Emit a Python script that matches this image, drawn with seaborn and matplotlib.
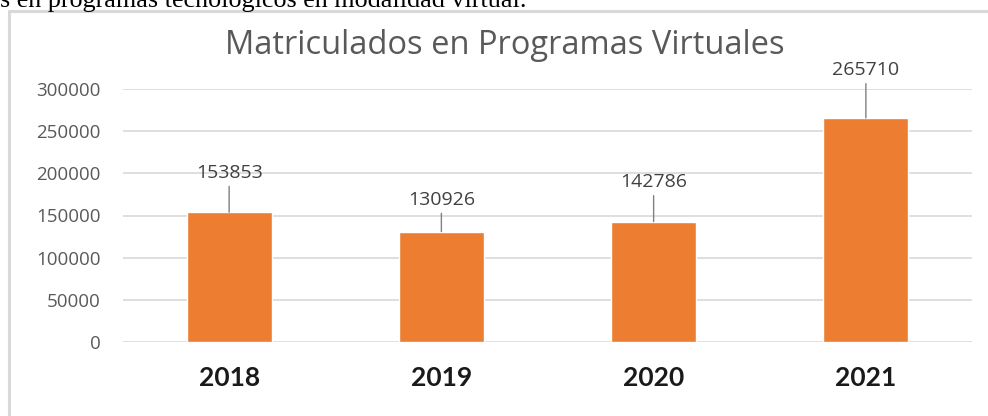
import matplotlib
matplotlib.use("Agg")
import matplotlib.pyplot as plt
import seaborn as sns
import pandas as pd
from matplotlib.lines import Line2D

# Datos del gráfico
anios = ["2018", "2019", "2020", "2021"]
matriculados = [153853, 130926, 142786, 265710]
titulo = "Matriculados en Programas Virtuales"
texto_superior = "s en programas tecnológicos en modalidad virtual."

# separación (en puntos) de cada etiqueta respecto a la barra
elevacion_etiqueta = [28.5, 23, 28.5, 34.5]

df = pd.DataFrame({"Año": anios, "Matriculados": matriculados})

sns.set_theme(style="white")
plt.rcParams["font.family"] = ["Open Sans", "DejaVu Sans"]

W, H = 988, 416
fig = plt.figure(figsize=(W / 100, H / 100), dpi=100)
ax = fig.add_axes([123 / W, 74 / H, (972 - 123) / W, 253 / H])

sns.barplot(data=df, x="Año", y="Matriculados", color="#ED7D31",
            width=0.4, saturation=1, ax=ax, zorder=3)

ax.set_ylim(0, 300000)
ax.set_xlim(-0.5, 3.5)
ax.set_yticks(range(0, 300001, 50000))
ax.yaxis.grid(True, color="#D9D9D9", lw=1.2, zorder=0)
ax.set_axisbelow(True)
for s in ax.spines.values():
    s.set_visible(False)
ax.set_xlabel("")
ax.set_ylabel("")
ax.tick_params(axis="y", length=0, pad=16, labelsize=13.5, labelcolor="#595959")
ax.tick_params(axis="x", length=0, pad=17)
for lbl in ax.get_xticklabels():
    lbl.set_fontfamily(["Lato", "DejaVu Sans"])
    lbl.set_fontweight("bold")
    lbl.set_fontsize(19)
    lbl.set_color("#1a1a1a")

# etiquetas de datos con líneas guía
for i, v in enumerate(matriculados):
    ax.annotate(str(v), xy=(i, v), xytext=(0, elevacion_etiqueta[i]),
                textcoords="offset points", ha="center", va="center",
                fontsize=14, color="#404040", annotation_clip=False,
                arrowprops=dict(arrowstyle="-", color="#808080", lw=1,
                                shrinkA=1, shrinkB=0))

fig.text(505 / W, 1 - 45 / H, titulo, ha="center", va="center",
         fontsize=23.5, color="#595959")

# texto del documento cortado arriba
fig.text(0, 1 - 7 / H, texto_superior, ha="left", va="baseline",
         fontsize=18.8, color="black", family=["Liberation Serif", "DejaVu Serif"])

# borde del área del gráfico
fig.add_artist(Line2D([9 / W, 1], [1 - 11 / H, 1 - 11 / H], color="#D9D9D9", lw=2.2))
fig.add_artist(Line2D([9 / W, 9 / W], [0, 1 - 11 / H], color="#D9D9D9", lw=2.2))

fig.savefig("out.png", dpi=100, facecolor="white")
